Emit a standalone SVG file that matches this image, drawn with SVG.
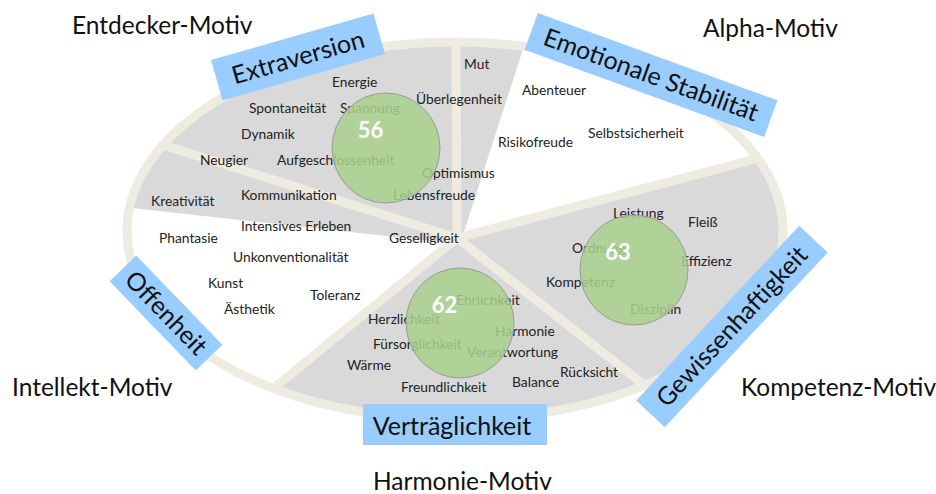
<svg xmlns="http://www.w3.org/2000/svg" width="936" height="494" viewBox="0 0 936 494">
<style>
.t{font-family:Lato,"Open Sans","Liberation Sans",sans-serif;font-size:13.8px;fill:#222}
.m{font-family:Lato,"Open Sans","Liberation Sans",sans-serif;font-size:24.5px;fill:#111}
.b{font-family:Lato,"Open Sans","Liberation Sans",sans-serif;font-size:25px;fill:#111}
.n{font-family:Lato,"Open Sans","Liberation Sans",sans-serif;font-size:22px;font-weight:bold;fill:#fff}
.box{fill:#99CCFF}
.circ{fill:#A9D18E;fill-opacity:0.86;stroke:#9a9a9a;stroke-width:1}
.spoke{stroke:#EEECE1;stroke-width:9;fill:none;stroke-linecap:butt}
</style>
<defs>
<clipPath id="oval"><ellipse cx="455" cy="231" rx="328" ry="189"/></clipPath>
</defs>
<rect width="936" height="494" fill="#fff"/>
<g id="sectors" clip-path="url(#oval)">
<ellipse cx="455" cy="231" rx="328" ry="189" fill="#fff"/>
<polygon points="460,244 -198,172 -198,-300 636,-300" fill="#D9D9D9"/>
<polygon points="457,238 1100,67 1100,600 12,600" fill="#D9D9D9"/>
</g>
<g id="connectors">
<ellipse cx="455" cy="231" rx="328" ry="189" class="spoke" stroke-width="11"/>
<line class="spoke" x1="457" y1="238" x2="456" y2="42"/>
<line class="spoke" x1="457" y1="238" x2="759" y2="158"/>
<line class="spoke" x1="457" y1="238" x2="644" y2="385"/>
<line class="spoke" x1="457" y1="238" x2="274" y2="388"/>
<line class="spoke" x1="457" y1="238" x2="160" y2="144"/>
</g>
<g id="traits-extraversion">
<text class="t" x="332" y="87">Energie</text>
<text class="t" x="249" y="113">Spontaneität</text>
<text class="t" x="340" y="113">Spannung</text>
<text class="t" x="416" y="104">Überlegenheit</text>
<text class="t" x="464" y="69">Mut</text>
<text class="t" x="241" y="139">Dynamik</text>
<text class="t" x="200" y="165">Neugier</text>
<text class="t" x="277" y="165">Aufgeschlossenheit</text>
<text class="t" x="422" y="178">Optimismus</text>
<text class="t" x="393" y="200">Lebensfreude</text>
<text class="t" x="241" y="200">Kommunikation</text>
<text class="t" x="151" y="206">Kreativität</text>
<text class="t" x="241" y="231">Intensives Erleben</text>
<text class="t" x="389" y="243">Geselligkeit</text>
</g>
<g id="traits-stabilitaet">
<text class="t" x="522" y="95">Abenteuer</text>
<text class="t" x="588" y="138">Selbstsicherheit</text>
<text class="t" x="498" y="147">Risikofreude</text>
</g>
<g id="traits-offenheit">
<text class="t" x="159" y="243">Phantasie</text>
<text class="t" x="233" y="262">Unkonventionalität</text>
<text class="t" x="208" y="288">Kunst</text>
<text class="t" x="310" y="300">Toleranz</text>
<text class="t" x="224" y="314">Ästhetik</text>
</g>
<g id="traits-vertraeglichkeit">
<text class="t" x="368" y="324">Herzlichkeit</text>
<text class="t" x="373" y="349">Fürsorglichkeit</text>
<text class="t" x="347" y="370">Wärme</text>
<text class="t" x="401" y="392">Freundlichkeit</text>
<text class="t" x="456" y="305">Ehrlichkeit</text>
<text class="t" x="495" y="336">Harmonie</text>
<text class="t" x="467" y="357">Verantwortung</text>
<text class="t" x="560" y="377">Rücksicht</text>
<text class="t" x="512" y="387">Balance</text>
</g>
<g id="traits-gewissenhaftigkeit">
<text class="t" x="613" y="218">Leistung</text>
<text class="t" x="688" y="227">Fleiß</text>
<text class="t" x="572" y="253">Ordnung</text>
<text class="t" x="681" y="266">Effizienz</text>
<text class="t" x="546" y="287">Kompetenz</text>
<text class="t" x="630" y="314">Disziplin</text>
</g>
<g id="score-56">
<ellipse class="circ" cx="386" cy="148" rx="54" ry="55"/>
<text class="n" x="370.5" y="138" text-anchor="middle">56</text>
</g>
<g id="score-62">
<ellipse class="circ" cx="460" cy="323" rx="54" ry="55"/>
<text class="n" x="444.5" y="313" text-anchor="middle">62</text>
</g>
<g id="score-63">
<ellipse class="circ" cx="634" cy="270" rx="54" ry="55"/>
<text class="n" x="618" y="260" text-anchor="middle">63</text>
</g>
<g id="box-extraversion" transform="translate(298,57) rotate(-16)">
<rect class="box" x="-84.5" y="-21" width="169" height="42"/>
<text class="b" x="0" y="9" text-anchor="middle">Extraversion</text>
</g>
<g id="box-stabilitaet" transform="translate(651,75) rotate(20)">
<rect class="box" x="-127.5" y="-19.5" width="255" height="39"/>
<text class="b" x="0" y="8.5" text-anchor="middle">Emotionale Stabilität</text>
</g>
<g id="box-offenheit" transform="translate(166,313) rotate(46)">
<rect class="box" x="-62" y="-18.5" width="124" height="37"/>
<text class="b" x="0" y="8.5" text-anchor="middle">Offenheit</text>
</g>
<g id="box-gewissenhaftigkeit" transform="translate(732,326.5) rotate(-47)">
<rect class="box" x="-119.5" y="-19.5" width="239" height="39"/>
<text class="b" x="0" y="8.5" text-anchor="middle">Gewissenhaftigkeit</text>
</g>
<g id="box-vertraeglichkeit">
<rect class="box" x="363" y="404" width="184" height="41"/>
<text class="b" x="452" y="435" text-anchor="middle">Verträglichkeit</text>
</g>
<g id="motiv-entdecker"><text class="m" x="72" y="34">Entdecker-Motiv</text></g>
<g id="motiv-alpha"><text class="m" x="703" y="37">Alpha-Motiv</text></g>
<g id="motiv-intellekt"><text class="m" x="12" y="396">Intellekt-Motiv</text></g>
<g id="motiv-kompetenz"><text class="m" x="741" y="396">Kompetenz-Motiv</text></g>
<g id="motiv-harmonie"><text class="m" x="373" y="490">Harmonie-Motiv</text></g>
</svg>
